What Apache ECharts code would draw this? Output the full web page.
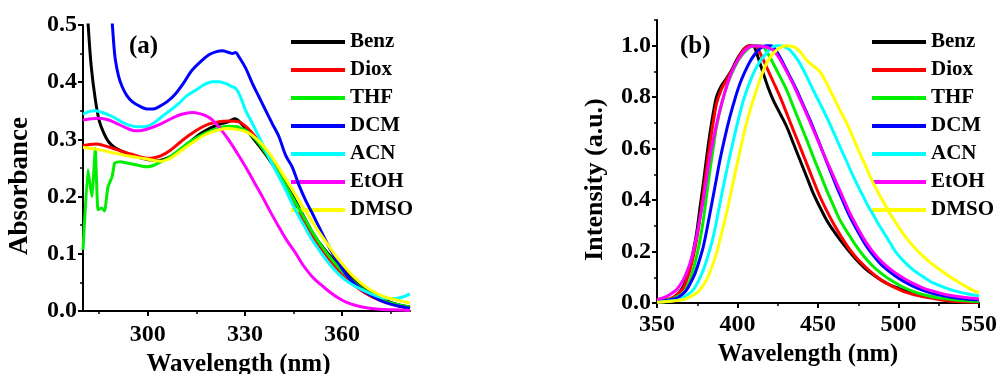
<!DOCTYPE html>
<html><head><meta charset="utf-8">
<script src="https://cdn.jsdelivr.net/npm/echarts@6/dist/echarts.min.js"></script>
<style>html,body{margin:0;padding:0;background:#fff}#c{width:1000px;height:374px}</style>
</head><body><div id="c"></div><script>
const seriesNames = ['Benz','Diox','THF','DCM','ACN','EtOH','DMSO'];
const seriesColors = ['#000000','#ff0000','#00ee00','#0000ff','#00ffff','#ff00ff','#ffff00'];

// Panel (a): absorbance, [wavelength nm, absorbance]
const absBenz = [[280,0.70],[281,0.56],[281.6,0.50],[282.5,0.43],[283.8,0.37],[285,0.333],[286.5,0.31],[288,0.295],[290,0.285],[293,0.277],[296,0.271],[299,0.266],[302,0.263],[304.5,0.264],[307,0.27],[310,0.281],[313,0.295],[316,0.309],[319,0.319],[322,0.326],[325,0.331],[326.8,0.336],[328,0.333],[330,0.32],[333,0.299],[336,0.277],[339,0.253],[342,0.227],[345,0.199],[348,0.167],[351,0.136],[354,0.112],[357,0.092],[360,0.075],[363,0.058],[366,0.044],[369,0.032],[372,0.022],[375,0.015],[378,0.010],[381,0.007]];
const absDiox = [[280,0.289],[282,0.291],[284,0.292],[286,0.29],[289,0.285],[292,0.279],[295,0.274],[298,0.269],[300,0.267],[302,0.268],[304,0.271],[307,0.281],[310,0.295],[313,0.308],[316,0.319],[319,0.327],[322,0.331],[325,0.332],[328,0.331],[330,0.324],[332,0.313],[334,0.299],[336.4,0.281],[338.5,0.262],[340.5,0.24],[343,0.213],[346,0.181],[349,0.15],[352,0.122],[355,0.098],[358,0.077],[361,0.059],[364,0.044],[367,0.032],[370,0.023],[373,0.016],[376,0.011],[379,0.007],[381,0.005]];
const absTHF = [[280,0.107],[281.5,0.247],[282.2,0.22],[282.8,0.2],[283.3,0.24],[283.8,0.284],[284.6,0.177],[285.7,0.18],[286.7,0.175],[287.7,0.217],[289,0.235],[289.8,0.259],[291.6,0.261],[295.2,0.257],[299.3,0.252],[301.5,0.254],[303.4,0.259],[306.5,0.268],[309.6,0.281],[312,0.292],[314.8,0.302],[317.5,0.31],[320,0.316],[322.5,0.321],[325,0.323],[327.5,0.322],[330.2,0.316],[333,0.302],[336,0.28],[339,0.254],[342,0.226],[345,0.196],[348,0.166],[351,0.137],[354,0.111],[357,0.089],[360,0.07],[363,0.054],[366,0.04],[369,0.029],[372,0.02],[375,0.014],[378,0.01],[381,0.007]];
const absDCM = [[288.7,0.53],[289.2,0.49],[289.6,0.46],[290,0.439],[291,0.41],[292.1,0.392],[293.5,0.377],[295.2,0.366],[297.5,0.358],[300,0.353],[301.5,0.353],[303.4,0.357],[306,0.366],[308.6,0.38],[311,0.398],[313.7,0.421],[316.5,0.437],[318.9,0.448],[321,0.453],[323,0.455],[325,0.452],[326.1,0.450],[327.1,0.452],[328.1,0.445],[330.2,0.425],[332.3,0.398],[334.3,0.375],[336.4,0.351],[338.5,0.327],[340.5,0.305],[342.6,0.272],[344.6,0.252],[346.7,0.22],[348.8,0.193],[350.8,0.171],[353.5,0.14],[356,0.112],[358.5,0.088],[361,0.066],[363.5,0.05],[366.3,0.037],[369,0.027],[372,0.018],[375,0.012],[378,0.008],[381,0.005]];
const absACN = [[280,0.344],[282,0.349],[283.8,0.350],[286,0.347],[289,0.34],[291.5,0.332],[294.1,0.325],[297,0.322],[299.3,0.322],[302,0.329],[304.4,0.34],[307,0.351],[309.6,0.363],[312,0.376],[314.8,0.386],[317.5,0.396],[319.9,0.401],[322,0.401],[324,0.398],[326.1,0.392],[327.2,0.389],[328.5,0.376],[330.2,0.351],[332.3,0.328],[334.3,0.305],[336.4,0.281],[338.4,0.258],[340.5,0.235],[342.6,0.212],[344.6,0.188],[346.7,0.165],[348.8,0.144],[350.8,0.124],[353.5,0.102],[356,0.083],[358.5,0.067],[361.1,0.054],[363.5,0.045],[366.3,0.037],[369,0.03],[371.4,0.025],[374,0.022],[376.6,0.022],[378.5,0.024],[381,0.03]];
const absEtOH = [[280,0.334],[282.5,0.336],[285,0.337],[288,0.334],[290,0.329],[293,0.321],[296.2,0.315],[298.5,0.316],[301,0.32],[304.4,0.328],[307.5,0.337],[310.5,0.344],[313.7,0.347],[316,0.345],[318,0.341],[319.9,0.334],[322.5,0.318],[325,0.299],[327.5,0.277],[330.2,0.252],[332.8,0.226],[335.4,0.2],[338,0.172],[340.5,0.147],[343,0.123],[345.7,0.101],[348,0.08],[350.8,0.06],[353.5,0.046],[356,0.034],[358.5,0.024],[361.1,0.016],[364,0.01],[367,0.006],[371.4,0.003],[376,0.002],[381,0.001]];
const absDMSO = [[280,0.286],[284,0.283],[289,0.277],[294,0.271],[299.3,0.266],[302,0.263],[304.4,0.262],[307,0.267],[309.6,0.277],[312,0.287],[314.8,0.298],[318,0.309],[322,0.317],[325,0.319],[327.1,0.318],[330,0.314],[332.3,0.307],[335,0.293],[337.4,0.277],[340,0.255],[342.6,0.231],[345,0.209],[347.7,0.184],[350.3,0.161],[352.9,0.138],[355.5,0.117],[358,0.097],[360.6,0.079],[363.2,0.062],[365.8,0.049],[368.4,0.038],[371,0.030],[373.5,0.024],[377,0.019],[381,0.014]];

// Panel (b): normalized emission, [wavelength nm, intensity]
const emBenz = [[350,0.006],[355,0.011],[360.1,0.019],[363,0.035],[366.4,0.065],[368.5,0.1],[370.5,0.142],[372.5,0.2],[374.6,0.272],[376.7,0.37],[378.8,0.466],[380.8,0.565],[382.9,0.66],[385,0.74],[387,0.802],[390,0.845],[393.2,0.873],[396.3,0.905],[399.4,0.944],[402.5,0.975],[405.6,0.996],[408,1.0],[409.8,1.0],[411.2,0.985],[413,0.95],[416,0.893],[419,0.838],[422.2,0.789],[426.4,0.737],[430.5,0.686],[434.6,0.622],[438.8,0.556],[443,0.49],[447,0.427],[451.2,0.372],[455.3,0.323],[459.5,0.282],[463.6,0.246],[468.7,0.206],[473.9,0.168],[479,0.136],[484.3,0.110],[489.5,0.088],[494.6,0.071],[500,0.057],[505,0.045],[512,0.032],[519.5,0.023],[527,0.016],[536,0.009],[543,0.006],[550,0.004]];
const emDiox = [[350,0.006],[355,0.012],[360,0.022],[363,0.036],[366.4,0.058],[368.5,0.09],[370.5,0.129],[372.5,0.18],[374.6,0.246],[376.7,0.33],[378.8,0.427],[380.8,0.525],[382.9,0.621],[385,0.705],[387,0.776],[390,0.83],[393.2,0.867],[396.3,0.9],[399.4,0.938],[401.5,0.962],[403.5,0.983],[405.6,0.995],[407.7,1.0],[409.8,1.0],[411.8,0.996],[414.9,0.96],[418,0.918],[422.2,0.86],[426.4,0.802],[430.5,0.738],[434.6,0.673],[438.8,0.608],[442.9,0.543],[447,0.478],[451.2,0.414],[455.3,0.36],[459.5,0.31],[464.6,0.256],[469.8,0.207],[475,0.168],[480.2,0.136],[485.3,0.108],[490.5,0.084],[496.7,0.063],[502.9,0.045],[510,0.032],[517.4,0.022],[526,0.013],[536,0.006],[550,0.003]];
const emTHF = [[350,0.006],[355,0.01],[360,0.017],[364,0.03],[366.4,0.039],[368.5,0.06],[370.5,0.09],[372.5,0.13],[374.6,0.181],[376.7,0.245],[378.8,0.323],[380.8,0.42],[382.9,0.517],[385,0.605],[387,0.686],[390,0.77],[393.2,0.841],[396.3,0.89],[399.4,0.931],[402.5,0.962],[405.6,0.983],[408,0.995],[410.8,1.0],[413.5,1.0],[416,0.996],[419,0.968],[422.2,0.931],[426.4,0.88],[430.5,0.828],[434.6,0.764],[438.8,0.699],[443,0.634],[447,0.569],[451.2,0.504],[455.3,0.44],[459.5,0.38],[463.6,0.323],[468.7,0.27],[473.9,0.22],[479,0.178],[484.3,0.142],[489.5,0.114],[494.6,0.091],[501.8,0.065],[509,0.045],[517,0.03],[525.6,0.019],[537,0.011],[550,0.006]];
const emDCM = [[350,0.006],[356,0.01],[362.2,0.019],[365.5,0.032],[368.5,0.052],[371,0.08],[373.7,0.116],[376.3,0.165],[378.8,0.22],[380.8,0.28],[382.9,0.349],[386,0.452],[389.1,0.556],[392.2,0.645],[395.3,0.724],[398.5,0.795],[401.6,0.854],[404.7,0.9],[407.7,0.938],[410.3,0.963],[412.9,0.983],[415.5,0.995],[418,1.0],[420.2,1.0],[422.2,0.996],[425.3,0.968],[428.4,0.931],[432.6,0.88],[436.7,0.828],[440.8,0.77],[445,0.712],[449.2,0.647],[453.3,0.582],[457.4,0.517],[461.5,0.453],[465.7,0.393],[469.8,0.336],[475,0.275],[480.2,0.22],[485.3,0.178],[490.5,0.142],[497.8,0.106],[505,0.078],[512,0.057],[519.5,0.041],[528,0.028],[536,0.019],[543,0.015],[550,0.013]];
const emACN = [[350,0.003],[357,0.007],[364.3,0.013],[368.5,0.03],[372.6,0.052],[375.7,0.085],[378.8,0.129],[382,0.19],[385,0.259],[388.1,0.355],[391.2,0.453],[394.3,0.545],[397.5,0.634],[400.6,0.715],[403.7,0.789],[406.8,0.845],[409.9,0.893],[413,0.93],[416.1,0.957],[419.2,0.98],[422.2,0.996],[424.3,1.0],[426.4,1.0],[429.5,0.995],[432.6,0.983],[435.7,0.96],[438.8,0.931],[443,0.88],[447,0.828],[451.2,0.776],[455.3,0.724],[459.5,0.666],[463.6,0.608],[467.8,0.55],[471.9,0.492],[476,0.44],[480.2,0.388],[484.3,0.343],[488.4,0.298],[493.6,0.246],[498.8,0.194],[504,0.158],[509.1,0.129],[515.3,0.102],[521.5,0.078],[528.7,0.06],[536,0.045],[543,0.035],[550,0.028]];
const emEtOH = [[350,0.013],[356,0.026],[359,0.037],[362.2,0.052],[364.3,0.07],[366.4,0.091],[368.5,0.12],[370.5,0.155],[372.5,0.2],[374.6,0.259],[376.7,0.33],[378.8,0.401],[380.8,0.487],[382.9,0.569],[386,0.665],[389.1,0.75],[392.2,0.82],[395.3,0.88],[398.5,0.925],[401.6,0.957],[404.7,0.983],[407.7,0.996],[411.8,1.0],[415,0.998],[418,0.994],[420,0.99],[422.2,0.983],[425.3,0.958],[428.4,0.925],[432.6,0.875],[436.7,0.822],[440.8,0.765],[445,0.705],[449.2,0.643],[453.3,0.582],[457.4,0.524],[461.5,0.466],[465.7,0.407],[469.8,0.349],[475,0.288],[480.2,0.233],[485.3,0.19],[490.5,0.155],[496.7,0.123],[503,0.097],[509,0.076],[515.4,0.058],[522.6,0.044],[529.9,0.032],[540,0.022],[550,0.016]];
const emDMSO = [[350,0.003],[358,0.007],[366.4,0.013],[370.5,0.024],[374.6,0.039],[377.7,0.06],[380.8,0.09],[384,0.138],[387,0.194],[390,0.268],[393.2,0.349],[396.3,0.44],[399.4,0.53],[402.5,0.618],[405.6,0.699],[408.7,0.768],[411.8,0.828],[414.9,0.885],[418,0.931],[421.1,0.962],[424.2,0.983],[427.3,0.995],[430.5,1.0],[433.6,0.998],[436.7,0.99],[439.8,0.97],[442.9,0.944],[447,0.922],[451.2,0.899],[455.3,0.855],[459.5,0.802],[463.6,0.75],[467.8,0.699],[472,0.64],[476,0.582],[480.2,0.524],[484.3,0.466],[489.5,0.405],[494.6,0.349],[499.8,0.298],[505,0.252],[510.2,0.214],[515.4,0.181],[520.6,0.153],[525.8,0.129],[532,0.102],[538.2,0.078],[544,0.057],[550,0.039]];

const absData = [absBenz, absDiox, absTHF, absDCM, absACN, absEtOH, absDMSO];
const emData = [emBenz, emDiox, emTHF, emDCM, emACN, emEtOH, emDMSO];

// tick labels
const absXMajor = [300, 330, 360];
const absXMinor = [285, 315, 345, 375];
const emYMajor = [0, 0.2, 0.4, 0.6, 0.8, 1.0];
const emYMinor = [0.1, 0.3, 0.5, 0.7, 0.9, 1.1];

const FONT = '"Liberation Serif", "Times New Roman", serif';
const txt = (size) => ({ fontFamily: FONT, fontWeight: 'bold', fontSize: size, color: '#000' });
const axisLine = { show: true, onZero: false, lineStyle: { color: '#000', width: 2 } };
const tickMajor = { show: true, length: 5, lineStyle: { color: '#000', width: 2 } };
const tickMinor = { show: true, length: 3, lineStyle: { color: '#000', width: 1.5 } };

const chart = echarts.init(document.getElementById('c'), null, { renderer: 'canvas' });

const series = [];
seriesNames.forEach((n, i) => {
  series.push({ name: n, type: 'line', xAxisIndex: 0, yAxisIndex: 0, data: absData[i],
    showSymbol: false, symbol: 'none', smooth: n === 'THF' ? 0.1 : 0.3, color: seriesColors[i],
    lineStyle: { width: 3, color: seriesColors[i] }, animation: false, z: 2 + i });
  series.push({ name: n, type: 'line', xAxisIndex: 2, yAxisIndex: 1, data: emData[i],
    showSymbol: false, symbol: 'none', smooth: 0.3, color: seriesColors[i],
    lineStyle: { width: 3, color: seriesColors[i] }, animation: false, z: 2 + i });
});

const legendBase = {
  orient: 'vertical', top: 28, padding: 0, itemWidth: 54, itemHeight: 4, itemGap: 0, icon: 'rect',
  selectedMode: false, data: seriesNames,
  textStyle: Object.assign(txt(21), { lineHeight: 28, padding: [0, 0, 0, 0] })
};

chart.setOption({
  animation: false,
  backgroundColor: '#fff',
  grid: [
    { left: 83, top: 25, width: 327, height: 286, outerBoundsMode: 'none', containLabel: false },
    { left: 657, top: 20, width: 322, height: 283, outerBoundsMode: 'none', containLabel: false }
  ],
  legend: [
    Object.assign({}, legendBase, { left: 291 }),
    Object.assign({}, legendBase, { left: 872 })
  ],
  graphic: [
    { type: 'text', left: 129, top: 34, style: { text: '(a)', fill: '#000', font: 'bold 25px ' + FONT } },
    { type: 'text', left: 680, top: 34, style: { text: '(b)', fill: '#000', font: 'bold 25px ' + FONT } }
  ],
  xAxis: [
    { type: 'value', gridIndex: 0, position: 'bottom', min: 280, max: 381,
      axisLine: axisLine, splitLine: { show: false },
      axisTick: Object.assign({ customValues: absXMajor }, tickMajor),
      axisLabel: Object.assign({ customValues: absXMajor, margin: 12 }, txt(24)),
      name: 'Wavelength (nm)', nameLocation: 'middle', nameGap: 33,
      nameTextStyle: Object.assign({ padding: [0, 16, 0, 0] }, txt(25)) },
    { type: 'value', gridIndex: 0, position: 'bottom', min: 280, max: 381,
      axisLine: { show: false }, splitLine: { show: false },
      axisTick: Object.assign({ customValues: absXMinor }, tickMinor),
      axisLabel: { show: false } },
    { type: 'value', gridIndex: 1, position: 'bottom', min: 350, max: 550, interval: 50,
      axisLine: axisLine, splitLine: { show: false },
      axisTick: tickMajor, minorTick: Object.assign({ splitNumber: 2 }, tickMinor),
      axisLabel: Object.assign({ margin: 10 }, txt(24)),
      name: 'Wavelength (nm)', nameLocation: 'middle', nameGap: 32,
      nameTextStyle: Object.assign({ padding: [0, 20, 0, 0] }, txt(24.5)) }
  ],
  yAxis: [
    { type: 'value', gridIndex: 0, position: 'left', min: 0, max: 0.5, interval: 0.1,
      axisLine: axisLine, splitLine: { show: false },
      axisTick: tickMajor, minorTick: Object.assign({ splitNumber: 2 }, tickMinor),
      axisLabel: Object.assign({ margin: 6, formatter: v => v.toFixed(1) }, txt(24)),
      name: 'Absorbance', nameLocation: 'middle', nameGap: 49,
      nameTextStyle: Object.assign({ padding: [0, 36, 0, 0] }, txt(27)) },
    { type: 'value', gridIndex: 1, position: 'left', min: 0, max: 1.1,
      axisLine: axisLine, splitLine: { show: false },
      axisTick: Object.assign({ customValues: emYMajor }, tickMajor),
      axisLabel: Object.assign({ customValues: emYMajor, margin: 6, formatter: v => v.toFixed(1) }, txt(24)),
      name: 'Intensity (a.u.)', nameLocation: 'middle', nameGap: 49,
      nameTextStyle: Object.assign({ padding: [0, 36, 0, 0] }, txt(26)) },
    { type: 'value', gridIndex: 1, position: 'left', min: 0, max: 1.1,
      axisLine: { show: false }, splitLine: { show: false },
      axisTick: Object.assign({ customValues: emYMinor }, tickMinor),
      axisLabel: { show: false } }
  ],
  series: series
});
</script></body></html>
